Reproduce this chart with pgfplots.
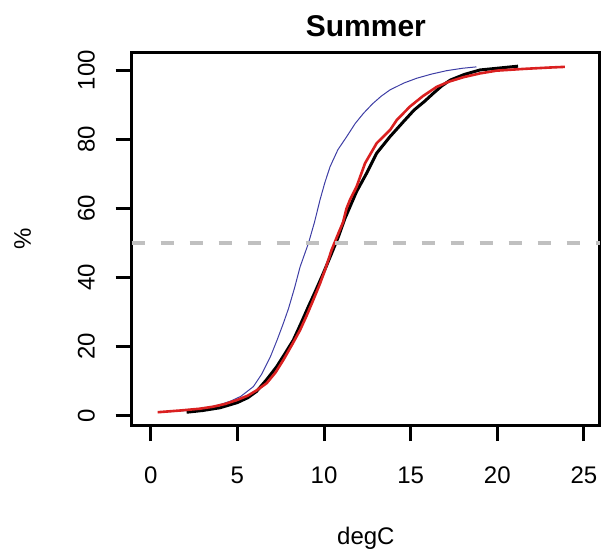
\documentclass[border=0pt]{standalone}
\usepackage{pgfplots}
\pgfplotsset{compat=1.18}
\usepackage{fontspec}
\setmainfont{Liberation Sans}
\definecolor{cdfred}{RGB}{218,32,32}
\definecolor{cdfblue}{RGB}{62,62,165}
\definecolor{refgrey}{RGB}{192,192,192}
\begin{document}
\begin{tikzpicture}
\begin{axis}[
  scale only axis,
  width=468.3pt, height=372.3pt,
  at={(0pt,0pt)}, anchor=south west,
  xmin=-1.1, xmax=25.93,
  ymin=-2.7, ymax=105.1,
  axis line style={line width=3pt, black},
  tick align=outside,
  major tick length=16pt,
  tick style={line width=3pt, black},
  xtick pos=bottom, ytick pos=left,
  xtick={0,5,10,15,20,25},
  ytick={0,20,40,60,80,100},
  /pgf/number format/assume math mode=true,
  ticklabel style={font=\fontsize{24}{24}\selectfont, inner sep=0pt},
  xticklabel style={anchor=north},
  xticklabel shift=25.7pt,
  yticklabel style={rotate=90, anchor=south},
  yticklabel shift=20.7pt,
  title={\textbf{Summer}},
  title style={at={(0.5,1.027)}, anchor=base, font=\fontsize{30}{30}\selectfont, inner sep=0pt},
  xlabel={degC},
  xlabel style={at={(0.5,-0.3223)}, anchor=base, font=\fontsize{24}{24}\selectfont, inner sep=0pt},
  ylabel={\%},
  ylabel style={at={(-0.2328,0.5)}, anchor=center, font=\fontsize{24}{24}\selectfont, inner sep=0pt},
  clip=true,
]
% blue
\addplot[cdfblue, line width=1pt] coordinates {
(0.6,1) (1.5,1.3) (2.5,1.7) (3.3,2.3) (4.0,3.2) (4.6,4.2) (5.2,5.6) (5.92,8.4)
(6.4,12) (6.9,17) (7.3,22) (7.65,26.7) (7.95,31) (8.3,37) (8.62,43.1) (9.1,49.9)
(9.45,56) (9.77,62.5) (10.05,67.5) (10.35,72.1) (10.8,77) (11.31,80.8) (11.8,84.6)
(12.27,87.5) (12.8,90.3) (13.3,92.5) (13.8,94.3) (14.6,96.3) (15.35,97.7) (16.2,98.9)
(17.08,99.9) (18.0,100.6) (18.8,101)
};
% black
\addplot[black, line width=3pt] coordinates {
(2.07,1) (3.0,1.5) (4.0,2.3) (5.0,3.8) (5.6,5.2) (6.1,7) (6.7,10.5) (7.27,14.2)
(7.75,18) (8.23,21.9) (8.65,26.5) (9.1,31.6) (9.5,36) (9.87,40.2) (10.15,43.5)
(10.44,47) (10.83,51.8) (11.2,57) (11.5,60.5) (11.88,64.9) (12.46,70.2) (13.04,76)
(13.81,80.8) (14.58,85.1) (15.2,88.5) (15.8,91) (16.3,93.3) (16.8,95.5) (17.3,97.2)
(18.1,98.8) (19.0,100.1) (20.0,100.6) (21.2,101.2)
};
% red
\addplot[cdfred, line width=2.6pt] coordinates {
(0.4,1) (1.7,1.5) (2.8,2) (3.6,2.6) (4.3,3.4) (4.96,4.5) (5.6,5.8) (6.1,7.3)
(6.69,9.4) (7.2,12.5) (7.65,16.1) (8.15,20.5) (8.62,24.8) (9.0,29) (9.38,33.5)
(9.75,38) (10.06,42.2) (10.44,48) (10.83,52.8) (11.1,56) (11.3,60) (11.5,62.5)
(11.88,66.3) (12.37,73.1) (13.04,78.9) (13.81,82.7) (14.2,85.6) (14.96,89.5)
(15.7,92.5) (16.5,95.2) (17.2,96.7) (18.04,98) (19.0,99.1) (19.96,99.9) (21.5,100.4)
(23.0,100.8) (23.9,101)
};
% reference line at 50
\addplot[refgrey, line width=4pt, dash pattern=on 13pt off 16pt] coordinates {(-1.1,50) (25.93,50)};
\end{axis}
\pgfresetboundingbox
\path[use as bounding box] (-131.7pt,-125pt) rectangle (471.3pt,425pt);
\end{tikzpicture}
\end{document}
